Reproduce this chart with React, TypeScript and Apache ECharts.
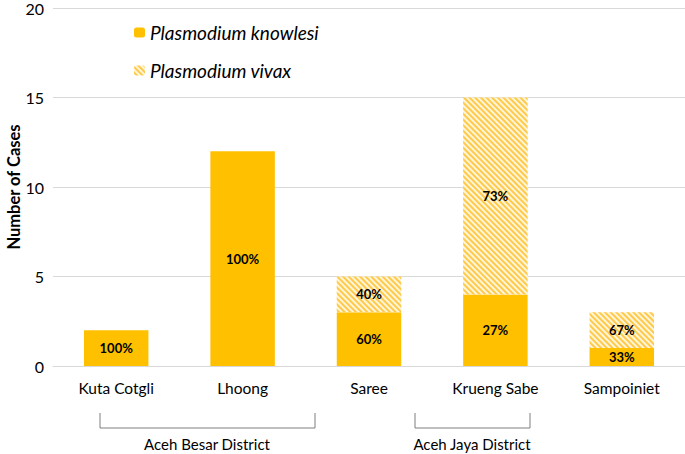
import React, { useEffect, useRef } from "react";
import * as echarts from "echarts";

const categories = ["Kuta Cotgli", "Lhoong", "Saree", "Krueng Sabe", "Sampoiniet"];
const knowlesi = [2, 12, 3, 4, 1];
const vivax = [0, 0, 2, 11, 2];
const knowlesiPct = ["100%", "100%", "60%", "27%", "33%"];
const vivaxPct = ["", "", "40%", "73%", "67%"];
const yTicks = [0, 5, 10, 15, 20];
const districts = ["Aceh Besar District", "Aceh Jaya District"];

const FONT = "Lato, 'Open Sans', sans-serif";

export default function App() {
  const ref = useRef<HTMLDivElement>(null);
  useEffect(() => {
    const chart = echarts.init(ref.current!, null, { renderer: "svg" });
    const labelStyle = {
      show: true,
      position: "inside" as const,
      color: "#000",
      fontWeight: "bold" as const,
      fontSize: 13,
      fontFamily: FONT,
    };
    chart.setOption({
      animation: false,
      textStyle: { fontFamily: FONT },
      grid: { left: 53, right: 0, top: 8, bottom: 88, containLabel: false, outerBoundsMode: "none" },
      legend: {
        orient: "vertical",
        left: 129,
        top: 18,
        itemGap: 19,
        itemWidth: 11,
        itemHeight: 10,
        data: ["Plasmodium knowlesi", "Plasmodium vivax"],
        textStyle: { fontSize: 19, fontStyle: "italic", color: "#000", fontFamily: FONT },
      },
      xAxis: {
        type: "category",
        data: categories,
        axisLine: { lineStyle: { color: "#d9d9d9" } },
        axisTick: { show: false },
        axisLabel: { color: "#000", fontSize: 15.5, margin: 14, fontFamily: FONT },
      },
      yAxis: {
        type: "value",
        min: yTicks[0],
        max: yTicks[yTicks.length - 1],
        interval: 5,
        name: "Number of Cases",
        nameLocation: "middle",
        nameGap: 31,
        nameMoveOverlap: false,
        nameTextStyle: { fontSize: 16.5, fontWeight: "bold", color: "#000", fontFamily: FONT },
        axisLabel: { color: "#000", fontSize: 16, margin: 9, fontFamily: FONT },
        splitLine: { lineStyle: { color: "#d9d9d9" } },
        axisLine: { show: false },
      },
      series: [
        {
          name: "Plasmodium knowlesi",
          type: "bar",
          stack: "a",
          barWidth: "51%",
          data: knowlesi,
          itemStyle: { color: "#FFC000" },
          label: { ...labelStyle, formatter: (p: any) => knowlesiPct[p.dataIndex] },
        },
        {
          name: "Plasmodium vivax",
          type: "bar",
          stack: "a",
          data: vivax,
          itemStyle: {
            color: "#FFF6DA",
            decal: {
              symbol: "rect",
              color: "#FFC94A",
              dashArrayX: [1, 0],
              dashArrayY: [1.5, 2],
              rotation: Math.PI / 4,
              symbolSize: 1,
            },
          },
          label: { ...labelStyle, formatter: (p: any) => vivaxPct[p.dataIndex] },
        },
      ],
      graphic: [
        {
          type: "polyline",
          shape: { points: [[100, 413], [100, 428], [315, 428], [315, 413]] },
          style: { stroke: "#7f7f7f", lineWidth: 1, fill: "none" },
        },
        {
          type: "polyline",
          shape: { points: [[415, 413], [415, 428], [530, 428], [530, 413]] },
          style: { stroke: "#7f7f7f", lineWidth: 1, fill: "none" },
        },
        {
          type: "text",
          x: 207,
          y: 444,
          style: {
            text: districts[0],
            fontSize: 15,
            fontFamily: FONT,
            fill: "#000",
            align: "center",
            verticalAlign: "middle",
          },
        },
        {
          type: "text",
          x: 472,
          y: 444,
          style: {
            text: districts[1],
            fontSize: 15,
            fontFamily: FONT,
            fill: "#000",
            align: "center",
            verticalAlign: "middle",
          },
        },
      ],
    });
    return () => chart.dispose();
  }, []);
  return <div ref={ref} style={{ width: 685, height: 454, position: "absolute", left: 0, top: 0 }} />;
}
